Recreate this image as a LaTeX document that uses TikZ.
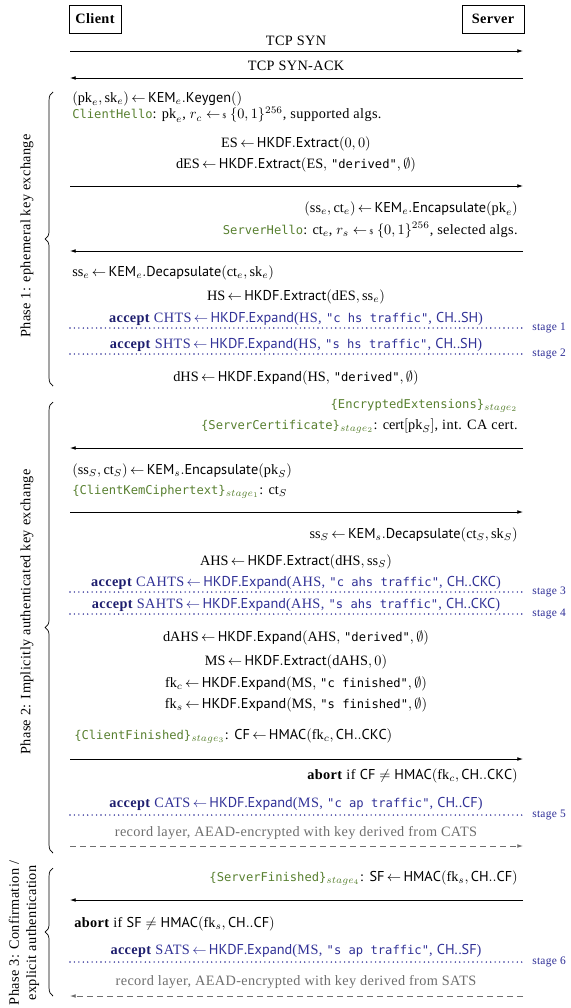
\documentclass[tikz,border=0pt]{standalone}
\usepackage{fontspec}
\setmainfont{Liberation Serif}[LetterSpace=2.5]
\setsansfont{PT Sans}
\setmonofont{DejaVu Sans Mono}[Scale=0.85]
\usetikzlibrary{arrows.meta,decorations.pathreplacing}
\definecolor{msggreen}{RGB}{88,128,48}
\definecolor{accblue}{RGB}{48,48,150}
\definecolor{accdark}{RGB}{30,30,110}
\definecolor{dotblue}{RGB}{45,45,150}
\definecolor{recgray}{RGB}{110,110,110}
\newcommand{\myla}{\,{\leftarrow}\,}
\newcommand{\smp}{\mathrel{\leftarrow\hspace{-1.2pt}\mbox{\tiny\$}}}
\newcommand{\str}[1]{\texttt{"#1"}}
\newcommand{\gmsg}[1]{\textcolor{msggreen}{\texttt{#1}}}
\newcommand{\emsg}[2]{\textcolor{msggreen}{\texttt{\{#1\}}$_{stage_{#2}}$}}
\newcommand{\acc}{\textcolor{accdark}{\textbf{accept}}}
\begin{document}
\begin{tikzpicture}[x=0.7pt,y=-0.7pt,
  lft/.style={anchor=base west,inner sep=0pt},
  rgt/.style={anchor=base east,inner sep=0pt},
  ctr/.style={anchor=base,inner sep=0pt},
  accline/.style={anchor=base,inner sep=0pt,text=accblue},
  msgarrow/.style={-{Latex[length=4pt,width=2.6pt]},line width=0.5pt},
  recarrow/.style={-{Latex[length=4pt,width=2.6pt]},line width=0.5pt,recgray,dash pattern=on 4pt off 3pt},
  stagesep/.style={dotblue,line width=1.1pt,dash pattern=on 0pt off 3.1pt,line cap=round},
  stagelbl/.style={text=dotblue,font=\fontsize{8}{9}\selectfont,anchor=west,inner sep=0pt},
  actor/.style={draw,line width=0.5pt,font=\bfseries,minimum height=19.6pt,inner sep=0pt},
  phasebrace/.style={decorate,decoration={brace,amplitude=5.5pt},line width=0.5pt},
  phaselbl/.style={rotate=90,inner sep=0pt,align=center}]
\useasboundingbox (0,0) rectangle (570,1008);

% actors
\node[actor,minimum width=36.4pt] (client) at (95,19) {Client};
\node[actor,minimum width=43.4pt] (server) at (493,19) {Server};

% TCP
\node[ctr] (syn) at (296,46) {TCP SYN};
\coordinate (a1l) at (70,51); \coordinate (a1r) at (523,51);
\draw[msgarrow] (a1l) -- (a1r);
\node[ctr] (synack) at (296,71) {TCP SYN-ACK};
\coordinate (a2l) at (70,78); \coordinate (a2r) at (523,78);
\draw[msgarrow] (a2r) -- (a2l);

% Phase 1
\node[lft] (kg) at (72,102) {$(\mathrm{pk}_e,\mathrm{sk}_e)\myla\mathsf{KEM}_e\mathsf{.Keygen()}$};
\node[lft] (ch) at (72,119) {\gmsg{ClientHello}: $\mathrm{pk}_e$,\ $r_c \smp \{0,1\}^{256}$, supported algs.};
\node[ctr] (es) at (296,147) {$\mathrm{ES}\myla\mathsf{HKDF.Extract}(0,0)$};
\node[ctr] (des) at (296,168) {$\mathrm{dES}\myla\mathsf{HKDF.Extract}(\mathrm{ES},$ \str{derived}$,\emptyset)$};
\coordinate (a3l) at (70,186); \coordinate (a3r) at (523,186);
\draw[msgarrow] (a3l) -- (a3r);
\node[rgt] (enc) at (518,212) {$(\mathrm{ss}_e,\mathrm{ct}_e)\myla\mathsf{KEM}_e\mathsf{.Encapsulate(}\mathrm{pk}_e\mathsf{)}$};
\node[rgt] (sh) at (518,234) {\gmsg{ServerHello}: $\mathrm{ct}_e$, $r_s \smp \{0,1\}^{256}$, selected algs.};
\coordinate (a4l) at (70,251); \coordinate (a4r) at (523,251);
\draw[msgarrow] (a4r) -- (a4l);
\node[lft] (dec) at (72,276) {$\mathrm{ss}_e\myla\mathsf{KEM}_e\mathsf{.Decapsulate(}\mathrm{ct}_e,\mathrm{sk}_e\mathsf{)}$};
\node[ctr] (hs) at (296,300) {$\mathrm{HS}\myla\mathsf{HKDF.Extract}(\mathrm{dES},\mathrm{ss}_e)$};
\node[accline] (chts) at (296,322) {\acc{} CHTS$\myla$\textsf{HKDF.Expand}(HS, \str{c hs traffic}, \textsf{CH..SH})};
\coordinate (s1l) at (70,328); \coordinate (s1r) at (523,328);
\draw[stagesep] (s1l) -- (s1r);
\node[stagelbl] (st1) at (532,328) {stage 1};
\node[accline] (shts) at (296,348) {\acc{} SHTS$\myla$\textsf{HKDF.Expand}(HS, \str{s hs traffic}, \textsf{CH..SH})};
\coordinate (s2l) at (70,354); \coordinate (s2r) at (523,354);
\draw[stagesep] (s2l) -- (s2r);
\node[stagelbl] (st2) at (532,354) {stage 2};
\node[ctr] (dhs) at (296,381) {$\mathrm{dHS}\myla\mathsf{HKDF.Expand}(\mathrm{HS},$ \str{derived}$,\emptyset)$};

% Phase 2
\node[rgt] (ee) at (518,408) {\emsg{EncryptedExtensions}{2}};
\node[rgt] (sc) at (518,429) {\emsg{ServerCertificate}{2}: $\mathrm{cert}[\mathrm{pk}_S]$, int. CA cert.};
\coordinate (a5l) at (70,448); \coordinate (a5r) at (523,448);
\draw[msgarrow] (a5r) -- (a5l);
\node[lft] (encs) at (72,474) {$(\mathrm{ss}_S,\mathrm{ct}_S)\myla\mathsf{KEM}_s\mathsf{.Encapsulate(}\mathrm{pk}_S\mathsf{)}$};
\node[lft] (ckc) at (72,494) {\emsg{ClientKemCiphertext}{1}: $\mathrm{ct}_S$};
\coordinate (a6l) at (70,512); \coordinate (a6r) at (523,512);
\draw[msgarrow] (a6l) -- (a6r);
\node[rgt] (decs) at (518,538) {$\mathrm{ss}_S\myla\mathsf{KEM}_s\mathsf{.Decapsulate(}\mathrm{ct}_S,\mathrm{sk}_S\mathsf{)}$};
\node[ctr] (ahs) at (296,565) {$\mathrm{AHS}\myla\mathsf{HKDF.Extract}(\mathrm{dHS},\mathrm{ss}_S)$};
\node[accline] (cahts) at (296,586) {\acc{} CAHTS$\myla$\textsf{HKDF.Expand}(AHS, \str{c ahs traffic}, \textsf{CH..CKC})};
\coordinate (s3l) at (70,592); \coordinate (s3r) at (523,592);
\draw[stagesep] (s3l) -- (s3r);
\node[stagelbl] (st3) at (532,592) {stage 3};
\node[accline] (sahts) at (296,608) {\acc{} SAHTS$\myla$\textsf{HKDF.Expand}(AHS, \str{s ahs traffic}, \textsf{CH..CKC})};
\coordinate (s4l) at (70,614); \coordinate (s4r) at (523,614);
\draw[stagesep] (s4l) -- (s4r);
\node[stagelbl] (st4) at (532,614) {stage 4};
\node[ctr] (dahs) at (296,641) {$\mathrm{dAHS}\myla\mathsf{HKDF.Expand}(\mathrm{AHS},$ \str{derived}$,\emptyset)$};
\node[ctr] (ms) at (296,665) {$\mathrm{MS}\myla\mathsf{HKDF.Extract}(\mathrm{dAHS},0)$};
\node[ctr] (fkc) at (296,687) {$\mathrm{fk}_c\myla\mathsf{HKDF.Expand}(\mathrm{MS},$ \str{c finished}$,\emptyset)$};
\node[ctr] (fks) at (296,708) {$\mathrm{fk}_s\myla\mathsf{HKDF.Expand}(\mathrm{MS},$ \str{s finished}$,\emptyset)$};
\node[lft] (cf) at (74,739) {\emsg{ClientFinished}{3}: \textsf{CF}$\myla\mathsf{HMAC}(\mathrm{fk}_c,\mathsf{CH..CKC})$};
\coordinate (a7l) at (70,759); \coordinate (a7r) at (523,759);
\draw[msgarrow] (a7l) -- (a7r);
\node[rgt] (abc) at (518,779) {\textbf{abort} if \textsf{CF} $\neq\mathsf{HMAC}(\mathrm{fk}_c,\mathsf{CH..CKC})$};
\node[accline] (cats) at (296,807) {\acc{} CATS$\myla$\textsf{HKDF.Expand}(MS, \str{c ap traffic}, \textsf{CH..CF})};
\coordinate (s5l) at (70,815); \coordinate (s5r) at (523,815);
\draw[stagesep] (s5l) -- (s5r);
\node[stagelbl] (st5) at (532,815) {stage 5};
\node[ctr,text=recgray] (rc) at (296,836) {record layer, AEAD-encrypted with key derived from CATS};
\coordinate (r1l) at (70,846); \coordinate (r1r) at (523,846);
\draw[recarrow] (r1l) -- (r1r);

% Phase 3
\node[rgt] (sf) at (518,881) {\emsg{ServerFinished}{4}: \textsf{SF}$\myla\mathsf{HMAC}(\mathrm{fk}_s,\mathsf{CH..CF})$};
\coordinate (a8l) at (70,900); \coordinate (a8r) at (523,900);
\draw[msgarrow] (a8r) -- (a8l);
\node[lft] (abs) at (74,927) {\textbf{abort} if \textsf{SF} $\neq\mathsf{HMAC}(\mathrm{fk}_s,\mathsf{CH..CF})$};
\node[accline] (sats) at (296,954) {\acc{} SATS$\myla$\textsf{HKDF.Expand}(MS, \str{s ap traffic}, \textsf{CH..SF})};
\coordinate (s6l) at (70,962); \coordinate (s6r) at (523,962);
\draw[stagesep] (s6l) -- (s6r);
\node[stagelbl] (st6) at (532,962) {stage 6};
\node[ctr,text=recgray] (rs) at (296,985) {record layer, AEAD-encrypted with key derived from SATS};
\coordinate (r2l) at (70,996); \coordinate (r2r) at (523,996);
\draw[recarrow] (r2r) -- (r2l);

% braces and phase labels
\coordinate (b1b) at (53,386); \coordinate (b1t) at (53,92);
\draw[phasebrace] (b1b) -- (b1t);
\node[phaselbl] (p1) at (27,236) {Phase 1: ephemeral key exchange};
\coordinate (b2b) at (53,853); \coordinate (b2t) at (53,402);
\draw[phasebrace] (b2b) -- (b2t);
\node[phaselbl] (p2) at (27,612) {Phase 2: Implicitly authenticated key exchange};
\coordinate (b3b) at (53,996); \coordinate (b3t) at (53,868);
\draw[phasebrace] (b3b) -- (b3t);
\node[phaselbl] (p3) at (24,933) {Phase 3: Confirmation /\\explicit authentication};
\end{tikzpicture}
\end{document}
